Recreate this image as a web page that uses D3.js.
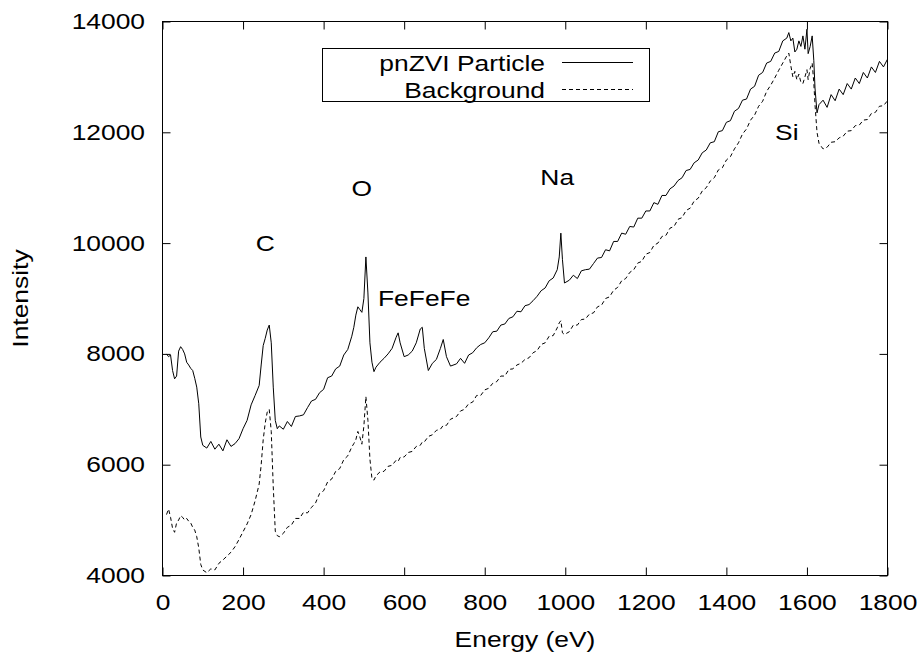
<!DOCTYPE html>
<html>
<head>
<meta charset="utf-8">
<script src="https://cdn.jsdelivr.net/npm/d3@7"></script>
<style>
    body { margin: 0; background: #fff; }
    svg text { font-family: "Liberation Sans", Arial, sans-serif; font-size: 22px; fill: #000; }
</style>
</head>
<body>
<div id="chart"></div>
<script>
// energy grid (eV), shared by both spectra
var energy = [
    10, 15, 20, 25, 30, 35, 40, 45, 50, 55, 60, 65, 70, 75, 80, 85, 90, 95, 100,
    110, 120, 130, 140, 150, 160, 170, 180, 190, 200, 210, 220, 230, 240,
    245, 250, 255, 260, 265, 270, 275, 280, 285, 290,
    300, 310, 320, 330, 340, 350, 360, 370, 380, 390, 400, 410, 420, 430, 440, 450, 460, 470,
    475, 480, 485, 490, 495, 500, 505, 510, 515, 520, 525,
    530, 540, 550, 560, 570, 580, 585, 590, 600, 610, 620, 630, 640, 645, 650, 660, 670, 680, 690, 697, 705, 715,
    730, 740, 750, 760, 770, 780, 790, 800, 810, 820, 830, 840, 850, 860, 870, 880, 890, 900, 910, 920, 930, 940, 950, 960, 970, 980,
    985, 989, 993, 998,
    1010, 1020, 1030, 1040, 1050, 1060, 1070, 1080, 1090, 1100,
    1110, 1120, 1130, 1140, 1150, 1160, 1170, 1180, 1190, 1200,
    1210, 1220, 1230, 1240, 1250, 1260, 1270, 1280, 1290, 1300,
    1310, 1320, 1330, 1340, 1350, 1360, 1370, 1380, 1390, 1400,
    1410, 1420, 1430, 1440, 1450, 1460, 1470, 1480, 1490, 1500,
    1510, 1520, 1530, 1540, 1550,
    1555, 1560, 1565, 1570, 1575, 1580, 1585, 1590, 1595, 1600,
    1603, 1608, 1613, 1617, 1620, 1625,
    1630, 1640, 1650, 1660, 1670, 1680, 1690, 1700, 1710, 1720, 1730, 1740, 1750, 1760, 1770, 1780, 1790, 1800
];

var particle = [
    8000, 7950, 7980, 7700, 7550, 7600, 8050, 8130, 8080, 8000, 7850, 7800, 7740, 7700, 7560, 7400, 7100, 6500, 6350,
    6300, 6420, 6280, 6370, 6250, 6450, 6330, 6380, 6470, 6650, 6800, 7080, 7250, 7430,
    7800, 8150, 8280, 8430, 8520, 8200, 7400, 6800, 6650, 6700,
    6640, 6780, 6690, 6870, 6880, 6900, 7030, 7150, 7180, 7300, 7360, 7570, 7600, 7730, 7780, 7980, 8080, 8320,
    8480, 8700, 8850, 8800, 8750, 9000, 9750, 9100, 8200, 7850, 7680,
    7760, 7850, 7920, 8000, 8100, 8300, 8380, 8200, 7950, 7980, 8050, 8200, 8450, 8480, 8100, 7700, 7830, 7900, 8100, 8260, 7950, 7780,
    7820, 7920, 7830, 7980, 8020, 8110, 8170, 8200, 8290, 8400, 8410, 8520, 8540, 8640, 8670, 8770, 8760, 8870, 8890, 8960, 9040, 9140, 9190, 9320, 9370, 9520,
    9750, 10180, 9700, 9280,
    9330, 9420, 9360, 9500, 9520, 9530, 9630, 9730, 9740, 9880,
    9860, 10030, 10030, 10180, 10160, 10300, 10290, 10450, 10450, 10580,
    10580, 10730, 10700, 10860, 10860, 10980, 11030, 11130, 11180, 11310,
    11330, 11450, 11500, 11630, 11680, 11810, 11830, 12010, 12030, 12180,
    12210, 12380, 12430, 12580, 12600, 12780, 12830, 13030, 13080, 13250,
    13280, 13430, 13460, 13650, 13700,
    13800, 13650, 13700, 13450, 13500, 13650, 13550, 13740, 13500, 13860,
    13420, 13550, 13740, 13300, 12800, 12350,
    12500, 12580, 12450, 12680, 12570, 12780, 12680, 12880, 12780, 12980, 12880, 13080, 12980, 13180, 13080, 13280, 13180, 13320
];

var background = [
    5100, 5200, 5050, 4850, 4780, 4950, 5000, 5080, 5050, 5000, 5030, 4980, 4950, 4870, 4820, 4700, 4500, 4200, 4100,
    4050, 4120, 4100, 4220, 4280, 4350, 4420, 4520, 4650, 4790, 4930, 5100, 5350, 5650,
    6000, 6450, 6750, 6950, 7000, 6600, 5600, 4800, 4720, 4700,
    4760, 4870, 4910, 5030, 5030, 5140, 5130, 5230, 5310, 5480, 5530, 5690, 5740, 5880, 5930, 6090, 6160, 6320,
    6380, 6450, 6600, 6500, 6370, 6700, 7230, 6800, 6100, 5750, 5720,
    5800, 5870, 5880, 5970, 5990, 6080, 6060, 6130, 6140, 6220, 6240, 6330, 6350, 6410, 6410, 6510, 6540, 6620, 6640, 6710, 6710, 6820,
    6870, 6970, 7000, 7100, 7130, 7250, 7250, 7350, 7380, 7470, 7500, 7600, 7600, 7720, 7730, 7800, 7830, 7900, 7930, 8020, 8060, 8170, 8200, 8320, 8330, 8470,
    8560, 8600, 8380, 8350,
    8400, 8520, 8520, 8620, 8630, 8720, 8740, 8850, 8880, 9000,
    9030, 9150, 9200, 9320, 9360, 9470, 9520, 9640, 9670, 9800,
    9830, 9960, 10000, 10120, 10140, 10270, 10300, 10430, 10460, 10590,
    10630, 10760, 10810, 10940, 11000, 11120, 11180, 11320, 11360, 11500,
    11560, 11700, 11810, 11970, 12060, 12220, 12310, 12470, 12560, 12740,
    12850, 12980, 13120, 13250, 13380,
    13430, 13200, 13000, 13100, 12950, 13050, 12900, 12880, 13000, 13130,
    12950, 13150, 13250, 12900, 12500, 12000,
    11800, 11700, 11730, 11820, 11830, 11900, 11930, 12020, 12030, 12120, 12130, 12220, 12230, 12340, 12360, 12470, 12480, 12570
];

var xTicks = [0, 200, 400, 600, 800, 1000, 1200, 1400, 1600, 1800];
var yTicks = [4000, 6000, 8000, 10000, 12000, 14000];
var seriesNames = ["pnZVI Particle", "Background"];
var peakNames = ["C", "O", "FeFeFe", "Na", "Si"];
var peakEnergy = [255, 495, 535, 980, 1550];
var peakIntensity = [10000, 11000, 9000, 11200, 12000];

// gnuplot font looks wider than Arial
var stretch = 1.2;

var margin = { top: 21.5, right: 35.5, bottom: 80.5, left: 162.5 },
    width = 923 - margin.left - margin.right,
    height = 656 - margin.top - margin.bottom;

var svg = d3.select("#chart").append("svg")
    .attr("width", 923)
    .attr("height", 656);

var g = svg.append("g")
    .attr("transform", "translate(" + margin.left + "," + margin.top + ")");

var xScale = d3.scaleLinear().domain([0, 1800]).range([0, width]);
var yScale = d3.scaleLinear().domain([4000, 14000]).range([height, 0]);

// axes, ticks pointing inward
var xAxis = d3.axisBottom(xScale).tickValues(xTicks).tickFormat(d3.format("d"))
    .tickSizeInner(-8).tickSizeOuter(0).tickPadding(19);
var yAxis = d3.axisLeft(yScale).tickValues(yTicks).tickFormat(d3.format("d"))
    .tickSizeInner(-8).tickSizeOuter(0).tickPadding(17.5);

var gx = g.append("g")
    .attr("transform", "translate(0," + height + ")")
    .call(xAxis);
gx.selectAll("text")
    .attr("transform", "scale(" + stretch + ",1)")
    .style("font-size", "22px");

var gy = g.append("g").call(yAxis);
gy.selectAll("text")
    .attr("x", -17.5 / stretch)
    .attr("transform", "scale(" + stretch + ",1)")
    .style("font-size", "22px");

// mirrored ticks on top and right
g.append("g")
    .call(d3.axisTop(xScale).tickValues(xTicks).tickSizeInner(-8).tickSizeOuter(0).tickFormat(""));
g.append("g")
    .attr("transform", "translate(" + width + ",0)")
    .call(d3.axisRight(yScale).tickValues(yTicks).tickSizeInner(-8).tickSizeOuter(0).tickFormat(""));

g.selectAll(".domain").remove();
g.selectAll(".tick line").attr("stroke", "#000");

g.append("rect")
    .attr("width", width)
    .attr("height", height)
    .attr("fill", "none")
    .attr("stroke", "#000")
    .attr("stroke-width", 1);

// spectra
var line = d3.line()
    .x(function (d, i) { return xScale(energy[i]); })
    .y(function (d) { return yScale(d); });

g.append("path")
    .datum(particle)
    .attr("d", line)
    .attr("fill", "none")
    .attr("stroke", "#000")
    .attr("stroke-width", 1);

g.append("path")
    .datum(background)
    .attr("d", line)
    .attr("fill", "none")
    .attr("stroke", "#000")
    .attr("stroke-width", 1)
    .attr("stroke-dasharray", "4,3");

function addText(parent, x, y, str, anchor, rot) {
    return parent.append("text")
        .attr("transform", "translate(" + x + "," + y + ")" + (rot ? " rotate(" + rot + ")" : "") + " scale(" + stretch + ",1)")
        .attr("text-anchor", anchor)
        .text(str);
}

// peak labels
peakNames.forEach(function (name, i) {
    addText(g, xScale(peakEnergy[i]), yScale(peakIntensity[i]), name, name === "FeFeFe" ? "start" : "middle", 0)
        .attr("dy", "0.36em");
});

// axis titles
addText(svg, margin.left + width / 2, 647, "Energy (eV)", "middle", 0);
addText(svg, 28, margin.top + height / 2, "Intensity", "middle", -90);

// legend
var legend = svg.append("g");
legend.append("rect")
    .attr("x", 322.5).attr("y", 48.5)
    .attr("width", 327).attr("height", 53)
    .attr("fill", "#fff")
    .attr("stroke", "#000");

seriesNames.forEach(function (name, i) {
    var cy = 62.5 + i * 27;
    addText(legend, 545, cy + 8, name, "end", 0);
    legend.append("line")
        .attr("x1", 562).attr("x2", 633)
        .attr("y1", cy).attr("y2", cy)
        .attr("stroke", "#000")
        .attr("stroke-width", 1)
        .attr("stroke-dasharray", i === 1 ? "4,3" : null);
});
</script>
</body>
</html>
